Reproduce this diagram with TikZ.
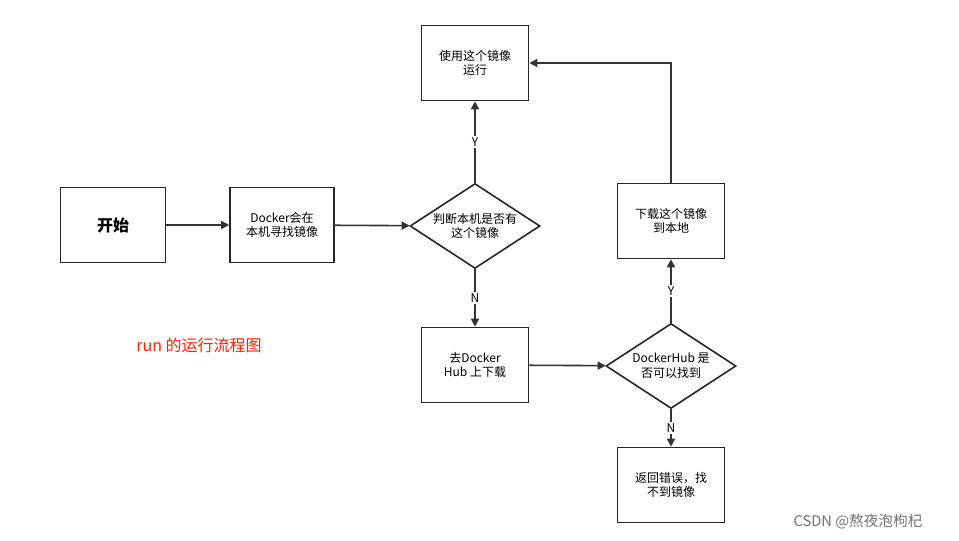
\documentclass[tikz,border=0pt]{standalone}
\usepackage{fontspec}
\setmainfont{Noto Sans CJK SC}
\usetikzlibrary{shapes.geometric,arrows.meta}
\begin{document}
\begin{tikzpicture}[x=0.75pt,y=-0.75pt,
 box/.style={draw=black!85,line width=1.2pt,minimum width=80.25pt,minimum height=56.25pt,align=center,font=\fontsize{9}{11}\selectfont,inner sep=1pt},
 dia/.style={draw=black!85,line width=1.2pt,diamond,aspect=1.53,minimum width=97.5pt,minimum height=63.75pt,align=center,font=\fontsize{9}{11}\selectfont,inner sep=0pt},
 arr/.style={draw=black!80,line width=1.2pt,-{Triangle[length=6pt,width=6pt]}},
 lab/.style={fill=white,font=\fontsize{9}{11}\selectfont,inner sep=1pt}]
\useasboundingbox[fill=white] (0,0) rectangle (959,541);
\node[box,minimum width=78.75pt,font=\fontsize{12}{14}\selectfont\bfseries] (start) at (113,225) {开始};
\node[box,minimum width=78pt] (find) at (282,225) {Docker会在\\本机寻找镜像};
\node[dia] (d1) at (475,226) {判断本机是否有\\这个镜像};
\node[box] (use) at (475,63) {使用这个镜像\\运行};
\node[box] (hub) at (475,365) {去Docker\\Hub 上下载};
\node[dia] (d2) at (671,366) {DockerHub 是\\否可以找到};
\node[box] (dl) at (671,221) {下载这个镜像\\到本地};
\node[box] (err) at (671,485) {返回错误，找\\不到镜像};
\draw[arr] (start) -- (find);
\draw[arr] (find) -- (d1);
\draw[arr] (d1) -- node[lab]{Y} (use);
\draw[arr] (d1) -- node[lab]{N} (hub);
\draw[arr] (hub) -- (d2);
\draw[arr] (d2) -- node[lab]{Y} (dl);
\draw[arr] (d2) -- node[lab]{N} (err);
\draw[arr] (dl.north) |- (use.east);
\node[text=red!75!orange,font=\fontsize{12}{14}\selectfont] (title) at (199,345) {run 的运行流程图};
\node[text=black!55,font=\fontsize{11}{13}\selectfont] (wm) at (858,522) {CSDN @熬夜泡枸杞};
\end{tikzpicture}
\end{document}
